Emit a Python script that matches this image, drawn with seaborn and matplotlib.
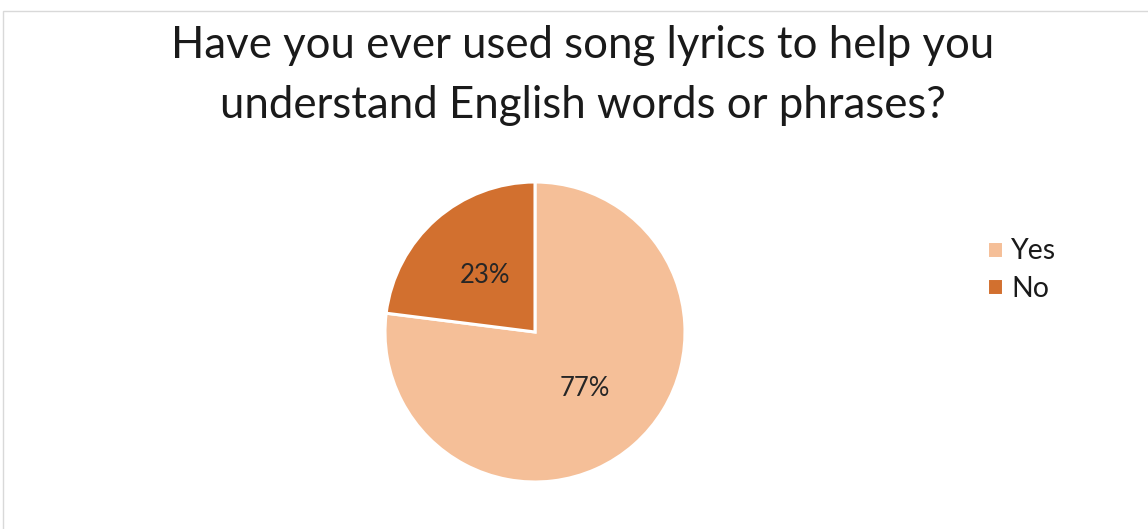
import matplotlib
matplotlib.use("Agg")
import matplotlib.pyplot as plt
import seaborn as sns
from matplotlib.patches import Rectangle

# Survey answers
answers = ["Yes", "No"]
shares = [77, 23]
colors = ["#F5BF98", "#D2702F"]
title_lines = ["Have you ever used song lyrics to help you",
               "understand English words or phrases?"]

sns.set_theme(style="white")
plt.rcParams["font.family"] = ["Lato", "DejaVu Sans"]

W, H = 1148, 529
fig = plt.figure(figsize=(W / 100, H / 100), dpi=100)
fig.patch.set_facecolor("white")

# light chart-area border
fig.patches.append(Rectangle((3 / W, -0.01), 1.02, (H - 11) / H + 0.01,
                             transform=fig.transFigure, fill=False,
                             edgecolor="#D9D9D9", linewidth=1.0))

# title, two centred lines
fig.text(583 / W, 1 - 46 / H, title_lines[0], ha="center", va="center",
         fontsize=31.5, color="#1a1a1a")
fig.text(583 / W, 1 - 106 / H, title_lines[1], ha="center", va="center",
         fontsize=31.5, color="#1a1a1a")

# pie axes: centre (535, 332) px, radius 150 px
cx, cy, r = 535, 332, 150
ax = fig.add_axes([(cx - r) / W, (H - cy - r) / H, 2 * r / W, 2 * r / H])
wedges, texts, autotexts = ax.pie(
    shares, colors=colors, startangle=90, counterclock=False,
    autopct=lambda p: f"{p:.0f}%", pctdistance=0.5,
    wedgeprops=dict(edgecolor="white", linewidth=2.2),
    textprops=dict(fontsize=18.5, color="#262626"))
ax.set_xlim(-1.0, 1.0)
ax.set_ylim(-1.0, 1.0)
ax.set_aspect("equal")
ax.axis("off")

fig.legend(wedges, answers, loc="upper left",
           bbox_to_anchor=(973 / W, 1 - 224 / H), frameon=False,
           fontsize=20.5, handlelength=0.55, handleheight=0.55,
           handletextpad=0.3, labelspacing=0.4, borderpad=0,
           labelcolor="#1a1a1a")

fig.savefig("out.png", dpi=100, facecolor="white")
